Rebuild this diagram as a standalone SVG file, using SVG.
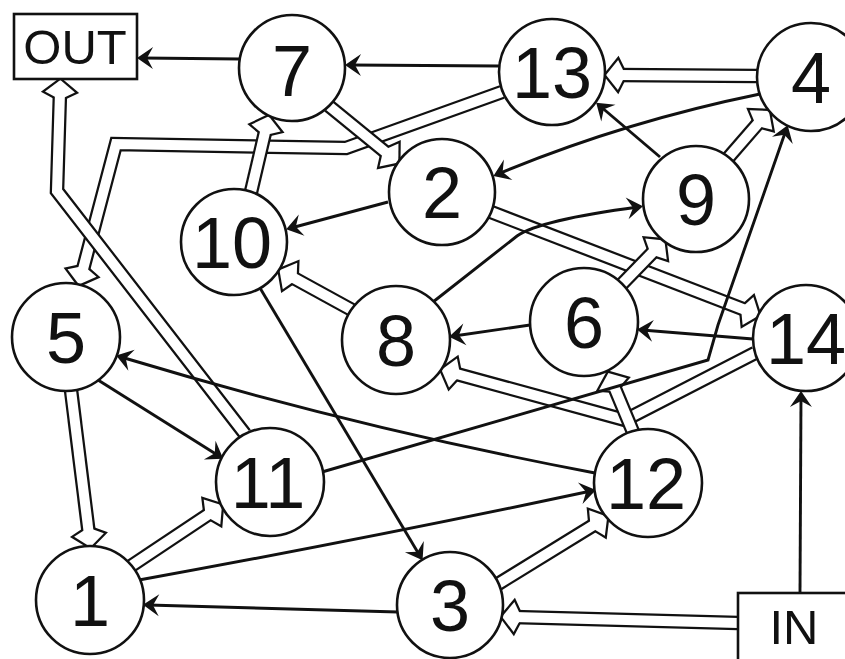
<svg xmlns="http://www.w3.org/2000/svg" width="845" height="659" viewBox="0 0 845 659">
<style>
.n circle, .n rect {fill:#fff; stroke:#111; stroke-width:2.6}
text {font-family:"Liberation Sans", Arial, sans-serif; font-size:72px; text-anchor:middle; fill:#111}
text.box {font-size:49px}
.b {fill:none; stroke:#111; stroke-width:2.9; marker-end:url(#ah)}
.hb {fill:none; stroke:#111; stroke-width:14.5; stroke-linejoin:miter; marker-end:url(#hb)}
.hw {fill:none; stroke:#fff; stroke-width:10; stroke-linejoin:miter; marker-end:url(#hw)}
</style>
<defs>
<marker id="ah" markerUnits="userSpaceOnUse" orient="auto" overflow="visible" markerWidth="1" markerHeight="1">
<path d="M5,0 L-11,-11 L-5,0 L-11,11 Z" fill="#111"/>
</marker>
<marker id="hb" markerUnits="userSpaceOnUse" orient="auto" overflow="visible" markerWidth="1" markerHeight="1">
<path d="M-5,-5 L0,-15 L12,0 L0,15 L-5,5 Z" fill="#111" stroke="#111" stroke-width="4.5"/>
</marker>
<marker id="hw" markerUnits="userSpaceOnUse" orient="auto" overflow="visible" markerWidth="1" markerHeight="1">
<path d="M-5,-5 L0,-15 L12,0 L0,15 L-5,5 Z" fill="#fff"/>
</marker>
</defs>
<rect width="845" height="659" fill="#fff"/>
<g id="connectors">
<path class="hb" d="M757,76 L618,75"/><path class="hw" d="M757,76 L618,75"/>
<path class="hb" d="M502,92 L346,148 L116,144 L82,273"/><path class="hw" d="M502,92 L346,148 L116,144 L82,273"/>
<path class="hb" d="M245,434 L57,191 L60,92"/><path class="hw" d="M245,434 L57,191 L60,92"/>
<path class="hb" d="M251,192 L266,128"/><path class="hw" d="M251,192 L266,128"/>
<path class="hb" d="M329,106 L389,155"/><path class="hw" d="M329,106 L389,155"/>
<path class="hb" d="M352,310 L290,276"/><path class="hw" d="M352,310 L290,276"/>
<path class="hb" d="M491,212 L748,311"/><path class="hw" d="M491,212 L748,311"/>
<path class="hb" d="M728,158 L761,120"/><path class="hw" d="M728,158 L761,120"/>
<path class="hb" d="M622,284 L656,249"/><path class="hw" d="M622,284 L656,249"/>
<path class="hb" d="M755,353 L625,420 L453,373"/><path class="hw" d="M755,353 L625,420 L453,373"/>
<path class="hb" d="M633,432 L613,384"/><path class="hw" d="M633,432 L613,384"/>
<path class="hb" d="M71,390 L89,535"/><path class="hw" d="M71,390 L89,535"/>
<path class="hb" d="M131,566 L212,512"/><path class="hw" d="M131,566 L212,512"/>
<path class="hb" d="M498,584 L597,523"/><path class="hw" d="M498,584 L597,523"/>
<path class="hb" d="M738,623 L514,617"/><path class="hw" d="M738,623 L514,617"/>
<path class="b" d="M240,59 L142,58"/>
<path class="b" d="M499,66 L350,65"/>
<path class="b" d="M760,94 Q623,122 498,174"/>
<path class="b" d="M660,157 L600,106"/>
<path class="b" d="M388,202 L291,228"/>
<path class="b" d="M433,302 L517,236 Q540,220 638,207"/>
<path class="b" d="M530,325 L454,336"/>
<path class="b" d="M753,339 L642,330"/>
<path class="b" d="M800,593 L801,396"/>
<path class="b" d="M398,612 L148,605"/>
<path class="b" d="M139,580 Q370,538 591,491"/>
<path class="b" d="M595,473 Q353,427 121,357"/>
<path class="b" d="M98,380 L219,456"/>
<path class="b" d="M260,288 L420,556"/>
<path class="b" d="M322,472 L708,360 L718,325 L786,130"/>
</g>
<g id="OUT" class="n"><rect x="14" y="14" width="123" height="65"/><text class="box" x="75" y="64">OUT</text></g>
<g id="IN" class="n"><rect x="738" y="593" width="115" height="70"/><text class="box" x="794" y="644">IN</text></g>
<g id="n7" class="n"><circle cx="292" cy="68" r="53"/><text x="292" y="96">7</text></g>
<g id="n13" class="n"><circle cx="552" cy="72" r="53"/><text x="552" y="98">13</text></g>
<g id="n4" class="n"><circle cx="811" cy="77" r="54"/><text x="811" y="103">4</text></g>
<g id="n2" class="n"><circle cx="442" cy="192" r="53"/><text x="442" y="218">2</text></g>
<g id="n9" class="n"><circle cx="696" cy="199" r="53"/><text x="696" y="225">9</text></g>
<g id="n10" class="n"><circle cx="234" cy="242" r="53"/><text x="232" y="268">10</text></g>
<g id="n5" class="n"><circle cx="66" cy="337" r="54"/><text x="66" y="363">5</text></g>
<g id="n8" class="n"><circle cx="396" cy="340" r="54"/><text x="396" y="366">8</text></g>
<g id="n6" class="n"><circle cx="584" cy="322" r="54"/><text x="584" y="348">6</text></g>
<g id="n14" class="n"><circle cx="806" cy="338" r="53"/><text x="806" y="364">14</text></g>
<g id="n11" class="n"><circle cx="270" cy="482" r="54"/><text x="268" y="508">11</text></g>
<g id="n12" class="n"><circle cx="648" cy="483" r="54"/><text x="646" y="509">12</text></g>
<g id="n1" class="n"><circle cx="90" cy="600" r="54"/><text x="90" y="626">1</text></g>
<g id="n3" class="n"><circle cx="450" cy="605" r="53"/><text x="450" y="631">3</text></g>
</svg>
